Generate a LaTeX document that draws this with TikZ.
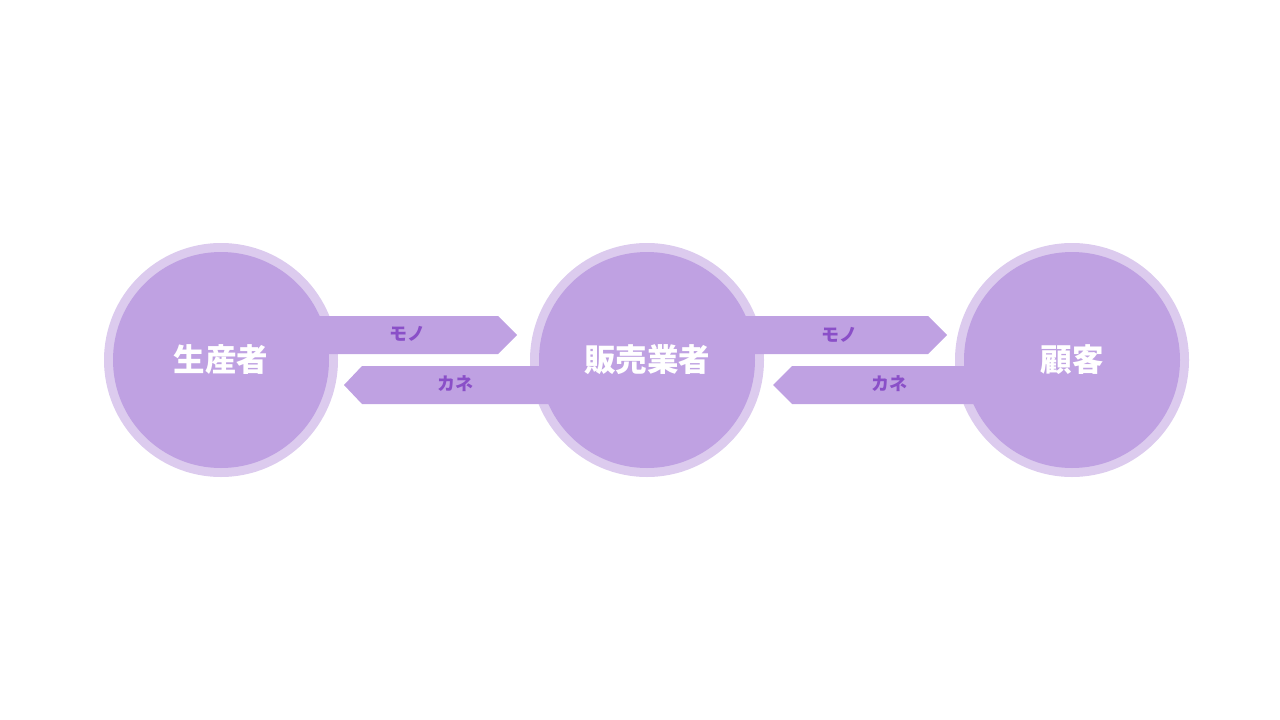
\documentclass[tikz,border=0pt]{standalone}
\usepackage{fontspec}
\newfontfamily\cjk{Noto Sans CJK JP}
\definecolor{fillc}{HTML}{BFA1E2}
\definecolor{ringc}{HTML}{DCCBEE}
\definecolor{txtc}{HTML}{8A4FC8}
\begin{document}
\begin{tikzpicture}[x=1pt,y=-1pt,
  ring/.style={circle,fill=ringc,minimum size=234pt,inner sep=0pt},
  core/.style={circle,fill=fillc,minimum size=216pt,inner sep=0pt,text=white,font=\cjk\bfseries\fontsize{31.5}{36}\selectfont},
  band/.style={fill=fillc},
  lbl/.style={text=txtc,font=\cjk\bfseries\fontsize{18}{20}\selectfont,inner sep=0pt}]
\useasboundingbox (0,0) rectangle (1280,720);
\node[ring] (r1) at (221,360) {};
\node[ring] (r2) at (647,360) {};
\node[ring] (r3) at (1072,360) {};
% arrows
\fill[band] (300,316) -- (498,316) -- (517,335) -- (498,354) -- (300,354) -- cycle;
\fill[band] (560,366) -- (362,366) -- (344,385) -- (362,404) -- (560,404) -- cycle;
\fill[band] (730,316) -- (928,316) -- (947,335) -- (928,354) -- (730,354) -- cycle;
\fill[band] (985,366) -- (792,366) -- (773,385) -- (792,404) -- (985,404) -- cycle;
% circles
\node[core] (c1) at (r1) {生産者};
\node[core] (c2) at (r2) {販売業者};
\node[core] (c3) at (r3) {顧客};
\node[lbl] (m1) at (407,334) {モノ};
\node[lbl] (k1) at (455,384) {カネ};
\node[lbl] (m2) at (839,335) {モノ};
\node[lbl] (k2) at (889,384) {カネ};
\end{tikzpicture}
\end{document}
